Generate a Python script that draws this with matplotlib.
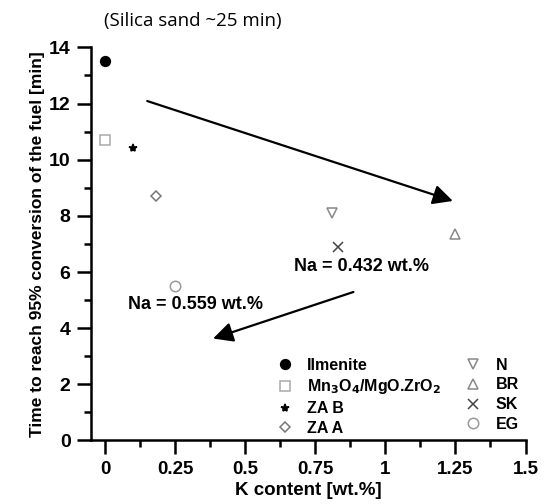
import matplotlib.pyplot as plt
from matplotlib.ticker import MultipleLocator

plt.rcParams['font.family'] = ['Liberation Sans', 'DejaVu Sans']
plt.rcParams['font.weight'] = 'bold'

# K content [wt.%] and time to 95% conversion [min]
names = ['Ilmenite', 'Mn$_3$O$_4$/MgO.ZrO$_2$', 'ZA B', 'ZA A', 'N', 'BR', 'SK', 'EG']
k_content = [0.0, 0.0, 0.10, 0.18, 0.81, 1.25, 0.83, 0.25]
time_95 = [13.5, 10.7, 10.4, 8.7, 8.1, 7.35, 6.9, 5.5]

markers = ['o', 's', '*', 'D', 'v', '^', 'x', 'o']
colors = ['black', '#aaaaaa', 'black', '#777777', '#888888', '#888888', '#444444', '#999999']
filled = [True, False, True, False, False, False, True, False]
sizes = [7, 7.5, 6, 5, 6.5, 6.5, 7, 7.5]

fig = plt.figure(figsize=(5.44, 5.04), dpi=100)
ax = fig.add_axes([0.168, 0.126, 0.798, 0.78])

handles = []
for x, y, n, m, c, f, s in zip(k_content, time_95, names, markers, colors, filled, sizes):
    if f:
        h, = ax.plot(x, y, ls='none', marker=m, color=c, ms=s, mew=1.1, label=n)
    else:
        h, = ax.plot(x, y, ls='none', marker=m, mfc='white', mec=c, ms=s, mew=1.1, label=n)
    handles.append(h)

# trend arrows
ax.annotate('', xy=(1.25, 8.5), xytext=(0.14, 12.12),
            arrowprops=dict(arrowstyle='-|>', color='black', lw=1.6, mutation_scale=30))
ax.annotate('', xy=(0.375, 3.6), xytext=(0.895, 5.32),
            arrowprops=dict(arrowstyle='-|>', color='black', lw=1.6, mutation_scale=30))
ax.text(0.675, 6.2, 'Na = 0.432 wt.%', fontsize=13, fontweight='bold', va='center')
ax.text(0.08, 4.85, 'Na = 0.559 wt.%', fontsize=13, fontweight='bold', va='center')

ax.legend(handles=handles, ncol=2, loc='lower right', bbox_to_anchor=(1.018, -0.025),
          frameon=False, handletextpad=0.4, columnspacing=1.0,
          labelspacing=0.3, prop={'weight': 'bold', 'size': 11.5})

ax.set_xlim(-0.05, 1.5)
ax.set_ylim(0, 14)
ax.xaxis.set_major_locator(MultipleLocator(0.25))
ax.xaxis.set_minor_locator(MultipleLocator(0.125))
ax.yaxis.set_major_locator(MultipleLocator(2))
ax.yaxis.set_minor_locator(MultipleLocator(1))
ax.set_xticks([0, 0.25, 0.5, 0.75, 1.0, 1.25, 1.5])
ax.set_xticklabels(['0', '0.25', '0.5', '0.75', '1', '1.25', '1.5'])
ax.spines['top'].set_visible(False)
ax.spines['right'].set_visible(False)
ax.spines['left'].set_linewidth(1.8)
ax.spines['bottom'].set_linewidth(1.8)
ax.tick_params(which='major', direction='out', length=10, width=1.8, labelsize=13.5)
ax.tick_params(which='minor', direction='out', length=5, width=1.8)
ax.tick_params(axis='x', which='major', pad=5)
ax.tick_params(axis='y', which='major', pad=5, labelsize=14)

ax.set_xlabel('K content [wt.%]', fontsize=13.5, fontweight='bold', labelpad=3)
ax.set_ylabel('Time to reach 95% conversion of the fuel [min]', fontsize=12.5,
              fontweight='bold', labelpad=3)
fig.text(0.355, 0.958, '(Silica sand ~25 min)', fontsize=13.5, fontweight='normal',
         family=['Open Sans', 'DejaVu Sans'], ha='center', va='center')

fig.savefig('out.png', dpi=100)
